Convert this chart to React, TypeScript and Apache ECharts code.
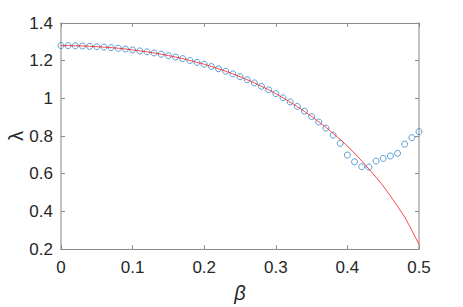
import React, { useEffect, useRef } from "react";
import * as echarts from "echarts";

const betaValues = [
  0.0, 0.01, 0.02, 0.03, 0.04, 0.05, 0.06, 0.07, 0.08, 0.09,
  0.1, 0.11, 0.12, 0.13, 0.14, 0.15, 0.16, 0.17, 0.18, 0.19,
  0.2, 0.21, 0.22, 0.23, 0.24, 0.25, 0.26, 0.27, 0.28, 0.29,
  0.3, 0.31, 0.32, 0.33, 0.34, 0.35, 0.36, 0.37, 0.38, 0.39,
  0.4, 0.41, 0.42, 0.43, 0.44, 0.45, 0.46, 0.47, 0.48, 0.49, 0.5,
];

// red curve (theory)
const lineValues = [
  1.28, 1.28, 1.279, 1.278, 1.276, 1.274, 1.272, 1.269, 1.266, 1.262,
  1.257, 1.252, 1.247, 1.241, 1.234, 1.227, 1.219, 1.211, 1.201, 1.191,
  1.181, 1.169, 1.157, 1.144, 1.13, 1.115, 1.099, 1.082, 1.064, 1.045,
  1.025, 1.003, 0.98, 0.956, 0.931, 0.904, 0.875, 0.846, 0.814, 0.781,
  0.747, 0.708, 0.668, 0.625, 0.581, 0.535, 0.482, 0.427, 0.37, 0.299, 0.225,
];

// blue circles (numerics)
const markerValues = [
  1.28, 1.28, 1.279, 1.278, 1.276, 1.274, 1.272, 1.269, 1.266, 1.262,
  1.257, 1.252, 1.247, 1.241, 1.234, 1.227, 1.219, 1.211, 1.201, 1.191,
  1.181, 1.169, 1.157, 1.144, 1.13, 1.115, 1.099, 1.082, 1.064, 1.045,
  1.025, 1.003, 0.981, 0.957, 0.932, 0.903, 0.874, 0.842, 0.805, 0.761,
  0.699, 0.663, 0.637, 0.635, 0.667, 0.681, 0.694, 0.708, 0.757, 0.791, 0.823,
];

const xTicks = { min: 0, max: 0.5, interval: 0.1 };
const yTicks = { min: 0.2, max: 1.4, interval: 0.2 };

const FONT = "'Liberation Sans', Arial, Helvetica, sans-serif";

export default function App() {
  const ref = useRef<HTMLDivElement>(null);
  useEffect(() => {
    if (!ref.current) return;
    const chart = echarts.init(ref.current, null, { renderer: "svg" });
    const fmt = (v: number) => String(+v.toFixed(2));
    const lrColor = "#c2c2c2";
    const tbColor = "#8a8a8a";
    const label = { fontFamily: FONT, fontSize: 17, color: "#262626", lineHeight: 17 };
    chart.setOption({
      animation: false,
      backgroundColor: "#ffffff",
      grid: { left: 61, right: 44, top: 23, bottom: 58, containLabel: false },
      xAxis: [
        {
          type: "value",
          position: "bottom",
          ...xTicks,
          axisLine: { show: true, onZero: false, lineStyle: { color: tbColor, width: 1 } },
          axisTick: { show: true, inside: true, length: 4, lineStyle: { color: tbColor } },
          axisLabel: { ...label, margin: 10, formatter: fmt },
          splitLine: { show: false },
        },
        {
          type: "value",
          position: "top",
          ...xTicks,
          axisLine: { show: true, onZero: false, lineStyle: { color: tbColor, width: 1 } },
          axisTick: { show: true, inside: true, length: 4, lineStyle: { color: tbColor } },
          axisLabel: { show: false },
          splitLine: { show: false },
        },
      ],
      yAxis: [
        {
          type: "value",
          position: "left",
          ...yTicks,
          axisLine: { show: true, onZero: false, lineStyle: { color: lrColor, width: 2 } },
          axisTick: { show: true, inside: true, length: 4, lineStyle: { color: tbColor } },
          axisLabel: { ...label, margin: 8, formatter: fmt },
          splitLine: { show: false },
        },
        {
          type: "value",
          position: "right",
          ...yTicks,
          axisLine: { show: true, onZero: false, lineStyle: { color: lrColor, width: 2 } },
          axisTick: { show: true, inside: true, length: 4, lineStyle: { color: tbColor } },
          axisLabel: { show: false },
          splitLine: { show: false },
        },
      ],
      series: [
        {
          type: "scatter",
          xAxisIndex: 0,
          yAxisIndex: 0,
          data: betaValues.map((b, i) => [b, markerValues[i]]),
          symbol: "circle",
          symbolSize: 6,
          itemStyle: { color: "rgba(0,0,0,0)", borderColor: "#2f86cc", borderWidth: 1 },
          z: 2,
        },
        {
          type: "line",
          xAxisIndex: 0,
          yAxisIndex: 0,
          data: betaValues.map((b, i) => [b, lineValues[i]]),
          showSymbol: false,
          smooth: false,
          lineStyle: { color: "#ff1a1a", width: 0.8 },
          z: 3,
        },
      ],
      graphic: [
        {
          type: "text",
          x: 240,
          y: 293,
          style: {
            text: "β",
            font: `italic 20px ${FONT}`,
            fill: "#262626",
            align: "center",
            verticalAlign: "middle",
          },
        },
        {
          type: "text",
          x: 16,
          y: 136,
          rotation: Math.PI / 2,
          style: {
            text: "λ",
            font: `20px ${FONT}`,
            fill: "#262626",
            align: "center",
            verticalAlign: "middle",
          },
        },
      ],
    });
    return () => chart.dispose();
  }, []);
  return (
    <div
      ref={ref}
      style={{ position: "fixed", left: 0, top: 0, width: 463, height: 307, background: "#fff" }}
    />
  );
}
